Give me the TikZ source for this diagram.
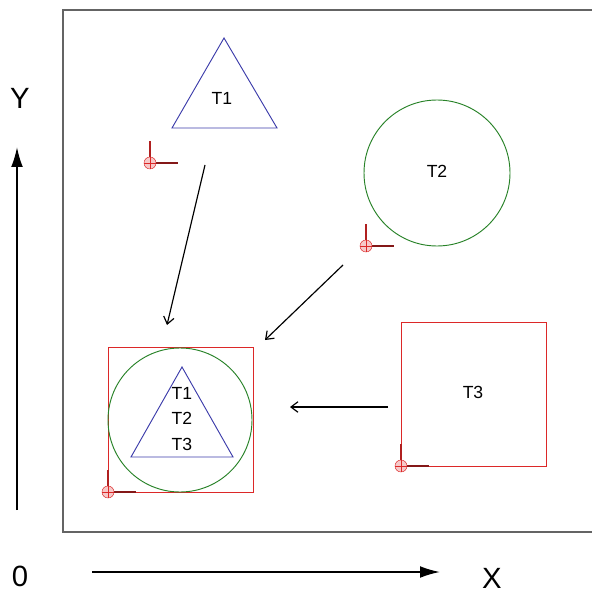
\documentclass[tikz,border=0pt]{standalone}
\usepackage{fontspec}
\setmainfont{Liberation Sans}
\usetikzlibrary{arrows.meta}
\definecolor{framegray}{RGB}{100,100,100}
\definecolor{tblue}{RGB}{60,60,170}
\definecolor{tgreen}{RGB}{40,130,40}
\definecolor{tred}{RGB}{220,40,40}
\tikzset{
  refmark/.pic={
    \draw[tred!80!black, line width=0.9pt] (0,0) -- (0,-22);
    \draw[tred!60!black, line width=0.9pt] (0,0) -- (28,0);
    \draw[tred, fill=tred!25] (0,0) circle[radius=6];
    \draw[tred] (-6,0) -- (6,0) (0,-6) -- (0,6);
  }
}
\begin{document}
\begin{tikzpicture}[x=0.03cm, y=-0.03cm, >={Straight Barb[length=6pt, width=9pt]},
  tlabel/.style={font=\fontsize{15}{22}\selectfont, align=center},
  axislabel/.style={font=\fontsize{25}{30}\selectfont},
  axisarrow/.style={-{Latex[length=17pt, width=10pt]}, line width=1.5pt}]
\useasboundingbox (0,0) rectangle (591,593);
\draw[framegray, line width=1.7pt] (63,10) rectangle (596,532);

% axes
\node[axislabel] (ylab) at (20,98) {Y};
\node[axislabel] (zero) at (20,576) {0};
\node[axislabel] (xlab) at (492,578) {X};
\coordinate (ybot) at (17,510);
\coordinate (ytop) at (17,147);
\coordinate (xleft) at (92,572);
\coordinate (xright) at (440,572);
\draw[axisarrow] (ybot) -- (ytop);
\draw[axisarrow] (xleft) -- (xright);

% T1
\draw[tblue, line width=0.8pt] (172,128) -- (224,38) -- (277,128) -- cycle;
\node[tlabel] (t1) at (222,98) {T1};
\pic at (150,163) {refmark};

% T2
\draw[tgreen, line width=0.8pt] (437,173) circle[radius=73];
\node[tlabel] (t2) at (437,171) {T2};
\pic at (366,246) {refmark};

% T3
\draw[tred, line width=0.8pt] (401,322) rectangle (546,466);
\node[tlabel] (t3) at (473,392) {T3};
\pic at (401,466) {refmark};

% all three on the origin
\draw[tred, line width=0.8pt] (108,347) rectangle (253,492);
\draw[tgreen, line width=0.8pt] (180,420) circle[radius=72];
\draw[tblue, line width=0.8pt] (131,457) -- (182,367) -- (233,457) -- cycle;
\node[tlabel] (tall) at (182,419) {T1\\T2\\T3};
\pic at (108,492) {refmark};

% moves
\coordinate (a1) at (205,165);
\coordinate (b1) at (167,325);
\coordinate (a2) at (343,265);
\coordinate (b2) at (265,340);
\coordinate (a3) at (388,407);
\coordinate (b3) at (290,407);
\draw[->, line width=1pt] (a1) -- (b1);
\draw[->, line width=1pt] (a2) -- (b2);
\draw[->, line width=1pt] (a3) -- (b3);
\end{tikzpicture}
\end{document}
